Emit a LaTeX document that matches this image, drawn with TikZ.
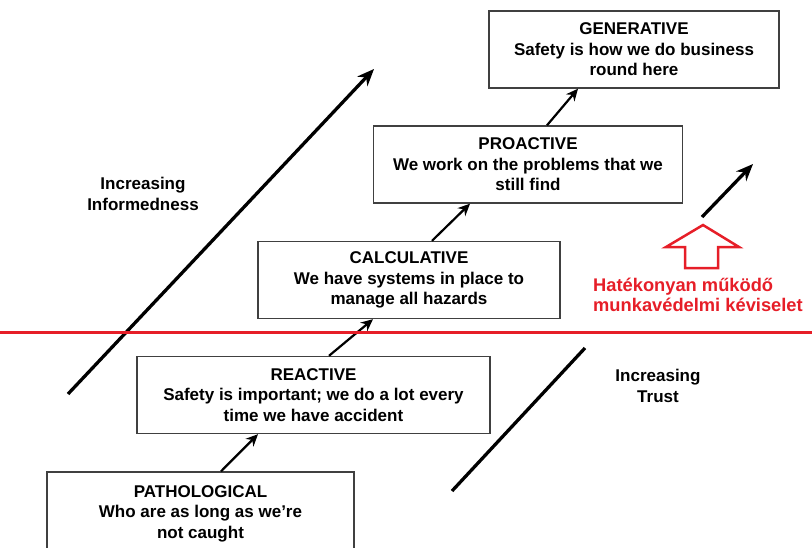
\documentclass[tikz,border=0pt]{standalone}
\usepackage{fontspec}
\setmainfont{Liberation Sans}
\usetikzlibrary{arrows.meta,positioning}

\definecolor{alarmred}{RGB}{230,30,40}

\begin{document}
\begin{tikzpicture}[x=1pt,y=-1pt]
\tikzstyle{block} = [rectangle, draw=black!75, line width=1.4pt, align=center,
minimum height=77pt, inner sep=0pt, font=\bfseries\fontsize{17}{20.5}\selectfont]
\tikzstyle{label} = [align=center, font=\bfseries\fontsize{17}{20.5}\selectfont]
\tikzstyle{line} = [draw, line width=2.2pt, -{Stealth[length=12pt,width=11pt]}];
\tikzstyle{trend} = [draw, line width=3.3pt, -{Stealth[length=17pt,width=14pt]}];
\useasboundingbox (0,0) rectangle (812,547);

% levels
\node [block, minimum width=290pt] (gen) at (634,49.5)
  {GENERATIVE\\Safety is how we do business\\round here};
\node [block, minimum width=309pt] (proact) at (528,164.5)
  {PROACTIVE\\We work on the problems that we\\still find};
\node [block, minimum width=302pt] (calc) at (409,280)
  {CALCULATIVE\\We have systems in place to\\manage all hazards};
\node [block, minimum width=353pt] (react) at (313.5,395)
  {REACTIVE\\Safety is important; we do a lot every\\time we have accident};
\node [block, minimum width=307pt, minimum height=83pt] (patho) at (200.5,513.5)
  {PATHOLOGICAL\\Who are as long as we're\\not caught};

% steps
\path [line] (patho.north -| 221,0) -- (react.south -| 258,0);
\path [line] (react.north -| 329,0) -- (calc.south -| 373,0);
\path [line] (calc.north -| 432,0) -- (proact.south -| 470,0);
\path [line] (proact.north -| 547,0) -- (gen.south -| 578,0);

% trends
\coordinate (inf0) at (68,394);
\coordinate (inf1) at (374,69);
\path [trend] (inf0) -- (inf1);
\node [label] (inf) at (143,194) {Increasing\\Informedness};

\coordinate (tr0) at (452,491);
\coordinate (tr1) at (585,348);
\draw [line width=3.3pt] (tr0) -- (tr1);
\coordinate (tr2) at (702,217);
\coordinate (tr3) at (753,164);
\path [trend] (tr2) -- (tr3);
\node [label] (trust) at (658,386) {Increasing\\Trust};

% threshold
\coordinate (red0) at (0,332);
\coordinate (red1) at (812,332);
\draw [alarmred, line width=3pt] (red0) -- (red1);
\draw [alarmred, line width=2.5pt]
  (703,225) -- (739,247) -- (718,247) -- (718,268) -- (685,268) -- (685,247)
  -- (666,247) -- cycle;
\node [align=left, anchor=west, text=alarmred, inner sep=0pt,
  font=\bfseries\fontsize{18.3}{20.5}\selectfont] (unit) at (593,295)
  {Hatékonyan működő\\munkavédelmi kéviselet};
\end{tikzpicture}
\end{document}
